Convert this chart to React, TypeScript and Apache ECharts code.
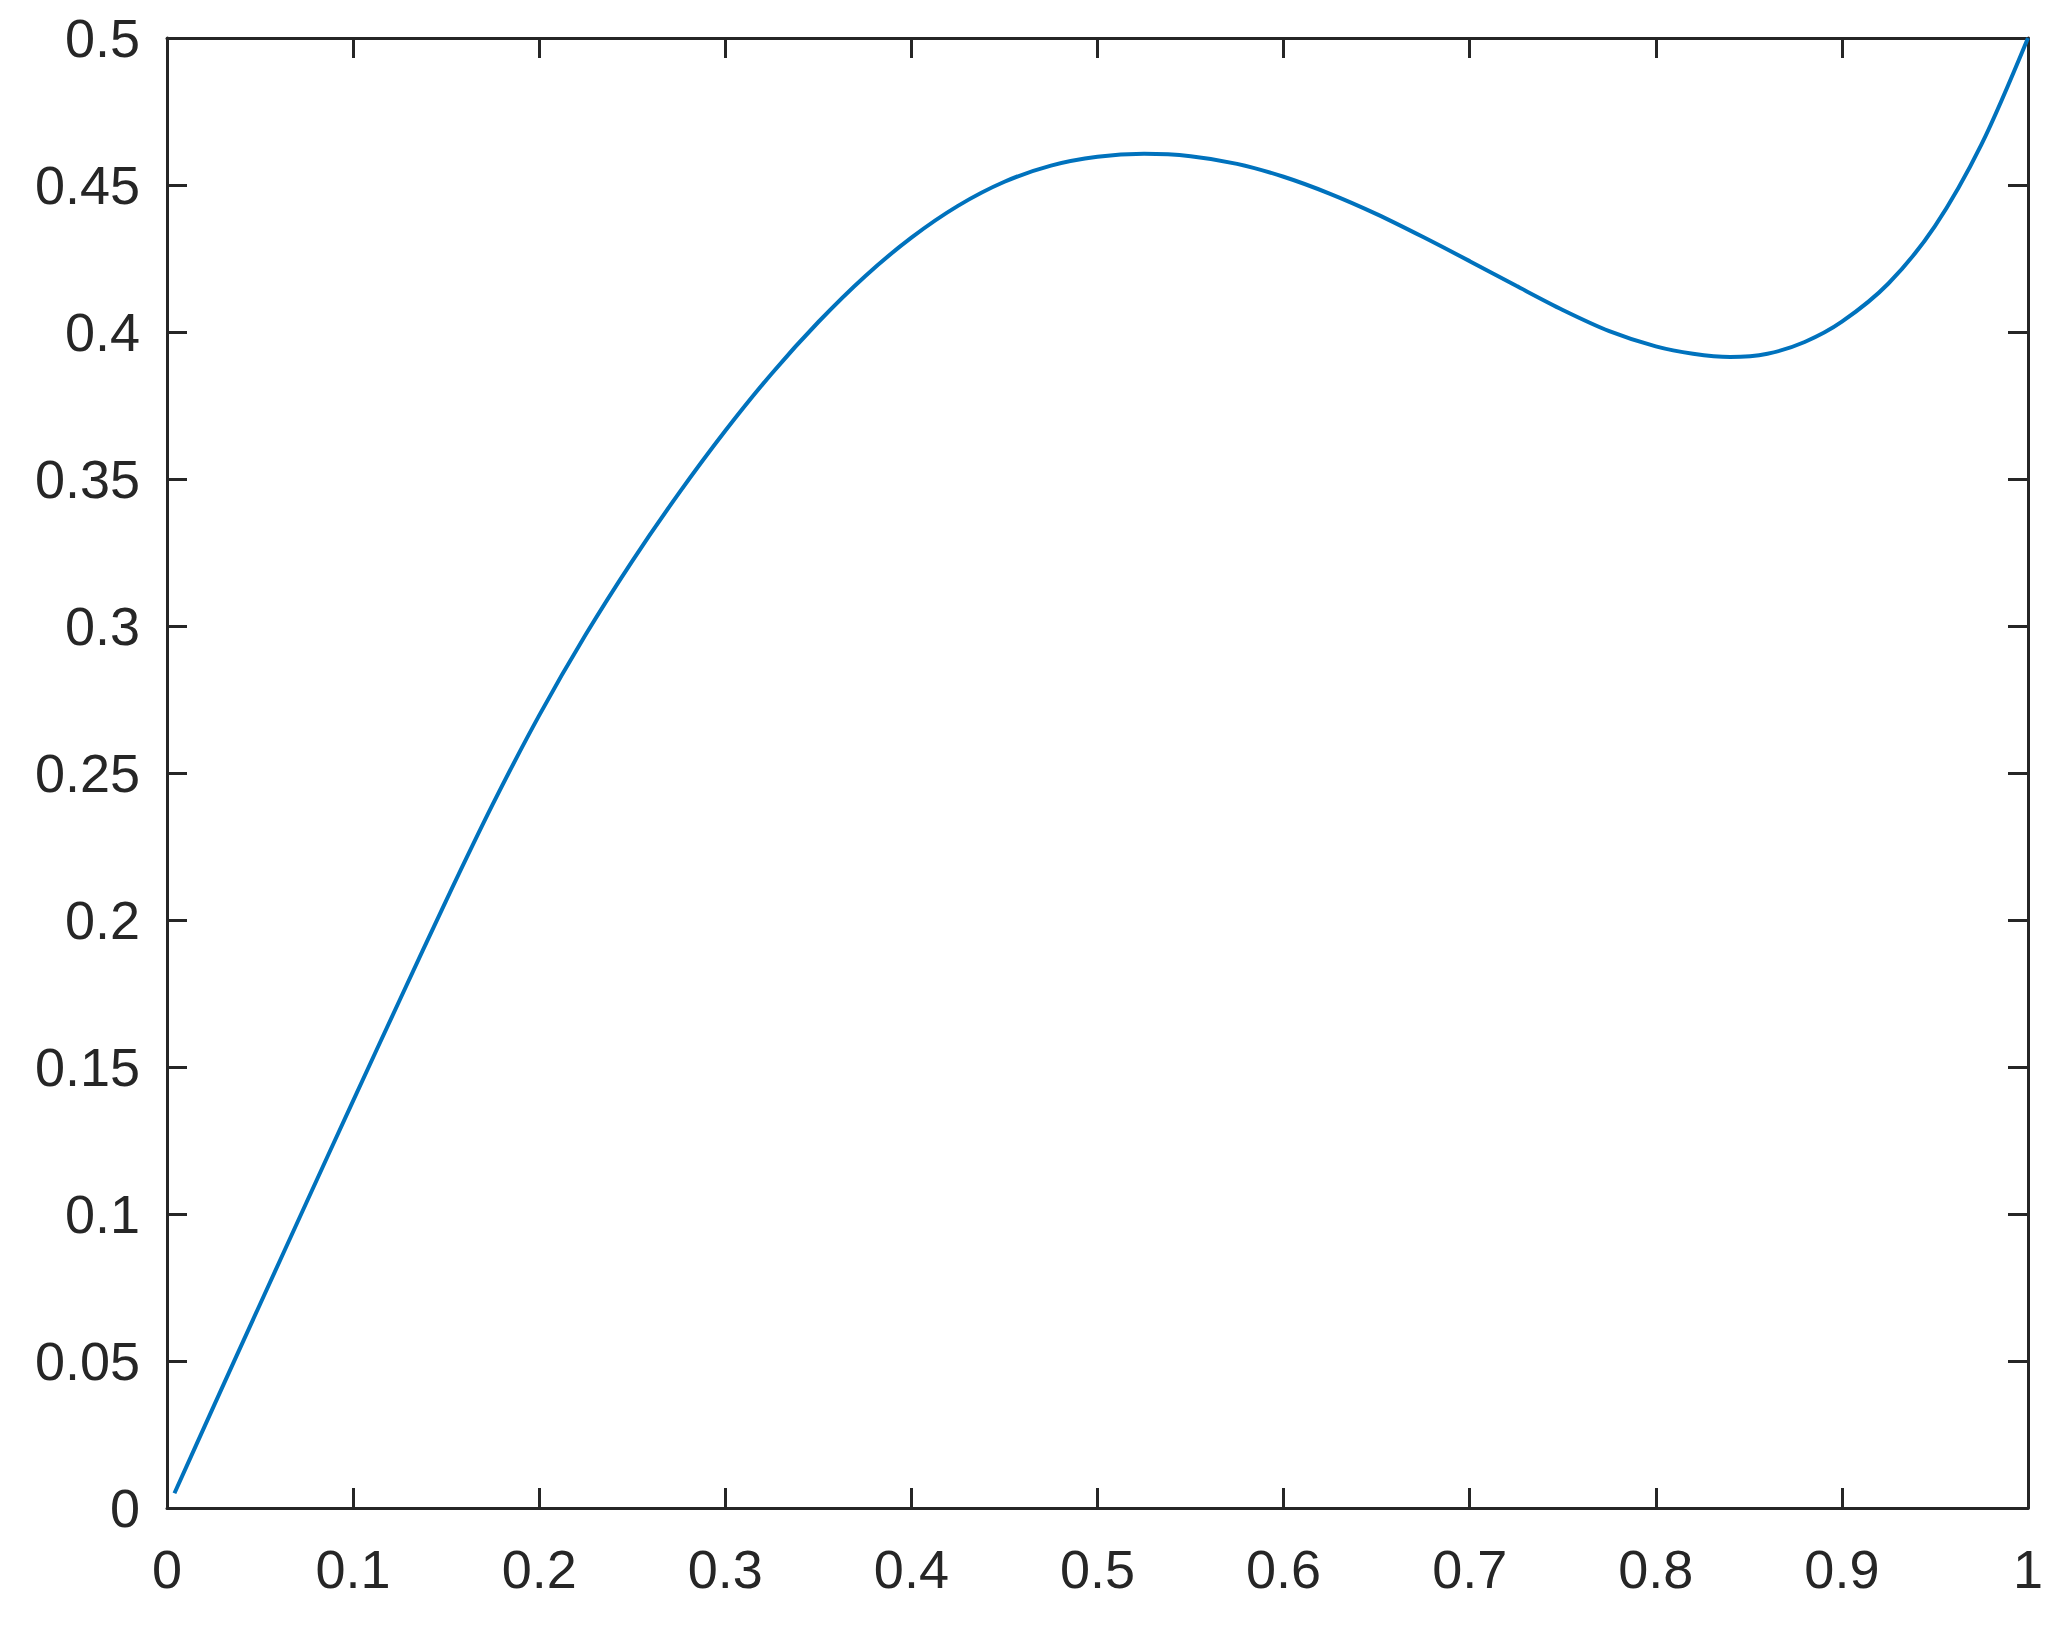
import React, { useEffect, useRef } from "react";
import * as echarts from "echarts";

const xValues = [
  0.004, 0.025, 0.05, 0.075, 0.1, 0.125, 0.15, 0.175, 0.2, 0.225, 0.25, 0.275, 0.3, 0.325, 0.35,
  0.375, 0.4, 0.425, 0.45, 0.475, 0.5, 0.525, 0.55, 0.575, 0.6, 0.625, 0.65, 0.675, 0.7, 0.725,
  0.75, 0.775, 0.8, 0.82, 0.84, 0.86, 0.88, 0.9, 0.925, 0.95, 0.975, 1.0,
];
const yValues = [
  0.005, 0.0345, 0.0693, 0.104, 0.1385, 0.1727, 0.2066, 0.2393, 0.2696, 0.2971, 0.3221, 0.3451,
  0.3664, 0.3859, 0.4034, 0.4189, 0.4321, 0.4429, 0.4511, 0.4566, 0.4596, 0.4606, 0.4598, 0.4572,
  0.4528, 0.447, 0.4401, 0.4323, 0.4241, 0.4157, 0.4075, 0.4003, 0.3951, 0.3926, 0.3915, 0.3926,
  0.3966, 0.4035, 0.4165, 0.436, 0.4638, 0.5,
];

const X_MIN = 0;
const X_MAX = 1;
const X_STEP = 0.1;
const Y_MIN = 0;
const Y_MAX = 0.5;
const Y_STEP = 0.05;

const AXIS_COLOR = "#262626";
const LINE_COLOR = "#0072BD";
const FONT = "'Liberation Sans', Arial, Helvetica, sans-serif";

export default function App() {
  const ref = useRef<HTMLDivElement>(null);

  useEffect(() => {
    if (!ref.current) return;
    const chart = echarts.init(ref.current, undefined, { renderer: "svg" });
    const axisCommon = {
      axisLine: { show: true, onZero: false, lineStyle: { color: AXIS_COLOR, width: 3 } },
      axisTick: { show: true, inside: true, length: 20, lineStyle: { color: AXIS_COLOR, width: 3 } },
      splitLine: { show: false },
    };
    const data = xValues.map((x, i) => [x, yValues[i]]);
    chart.setOption({
      animation: false,
      backgroundColor: "#ffffff",
      grid: { left: 167, right: 33, top: 38, bottom: 118, containLabel: false },
      xAxis: [
        {
          type: "value",
          min: X_MIN,
          max: X_MAX,
          interval: X_STEP,
          position: "bottom",
          ...axisCommon,
          axisLabel: {
            show: true,
            margin: 34,
            fontSize: 54,
            color: AXIS_COLOR,
            fontFamily: FONT,
          },
        },
        {
          type: "value",
          min: X_MIN,
          max: X_MAX,
          interval: X_STEP,
          position: "top",
          ...axisCommon,
          axisLabel: { show: false },
        },
      ],
      yAxis: [
        {
          type: "value",
          min: Y_MIN,
          max: Y_MAX,
          interval: Y_STEP,
          position: "left",
          ...axisCommon,
          axisLabel: {
            show: true,
            margin: 27,
            fontSize: 54,
            color: AXIS_COLOR,
            fontFamily: FONT,
          },
        },
        {
          type: "value",
          min: Y_MIN,
          max: Y_MAX,
          interval: Y_STEP,
          position: "right",
          ...axisCommon,
          axisLabel: { show: false },
        },
      ],
      series: [
        {
          type: "line",
          data,
          xAxisIndex: 0,
          yAxisIndex: 0,
          showSymbol: false,
          smooth: 0.3,
          lineStyle: { color: LINE_COLOR, width: 4 },
          clip: false,
        },
      ],
    });
    return () => chart.dispose();
  }, []);

  return (
    <div
      ref={ref}
      style={{ position: "absolute", left: 0, top: 0, width: 2061, height: 1626, background: "#fff" }}
    />
  );
}
